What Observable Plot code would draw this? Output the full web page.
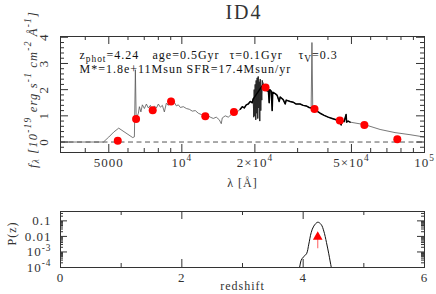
<!DOCTYPE html>
<html><head><meta charset="utf-8">
<script src="https://cdn.jsdelivr.net/npm/d3@7"></script>
<script src="https://cdn.jsdelivr.net/npm/@observablehq/plot@0.6"></script>
<style>
body{margin:0;background:#fff;width:436px;height:294px;overflow:hidden;font-family:"Liberation Serif",serif;color:#333}
#title{height:24px;line-height:24px;font-size:20px;letter-spacing:2px;text-align:center;padding-left:52px;box-sizing:border-box;width:436px}
svg{display:block}
</style></head><body>
<div id="title">ID4</div>
<div id="topPanel"></div><div id="botPanel"></div>
<script>
// ---- spectrum (observed-frame wavelength in Å, flux in 1e-19 erg/s/cm2/Å)
const specWave = [3162,4753,5000,5241,5494,6274,6376,6436,6485,6528,6622,6685,6781,6878,7010,7144,7281,7420,7560,7707,7854,8004,8157,8313,8472,8634,8799,8967,9139,9314,9492,9673,9859,10143,10436,10737,11046,11365,11692,12029,12376,12733,13100,13478,13866,14266,14539,14678,15101,15536,15984,16445,16919,17407,17740,18080,18426,18779,19139,19505,19690,19784,19878,19972,20067,20162,20258,20354,20450,20547,20645,20743,20841,20940,21040,21140,21240,21341,21442,21646,21853,22271,22483,22697,22913,23022,23351,23573,23685,24253,24717,25190,25430,26163,26664,26918,27950,28753,29583,30727,31623,32534,33471,34111,34371,34633,35765,37147,38583,40073,41621,43231,44479,45330,45761,46633,47524,47750,48432,49359,56908,65610,75610,87170,100000];
const specFlux = [0,0,0.19,0.38,0.53,0.17,0.2,2.76,0.88,0.95,1.1,1.35,1.15,1.42,1.28,1.45,1.3,1.4,1.22,1.38,1.3,1.45,1.33,1.4,1.15,1.48,1.4,1.55,1.45,1.52,1.38,1.42,1.32,1.35,1.28,1.25,1.18,1.2,1.1,1.05,0.98,1.02,0.95,0.9,0.95,0.85,0.7,0.92,1.0,0.95,1.05,1.12,1.15,1.25,1.35,1.3,1.42,1.45,1.55,1.5,1.65,0.95,2.0,1.0,2.2,0.85,2.35,1.1,2.45,0.9,2.5,1.3,2.3,0.8,2.4,1.2,2.1,1.6,2.35,2.2,2.15,2.05,1.95,2.05,1.5,2.0,1.95,1.2,1.9,1.85,1.78,1.55,1.72,1.62,1.45,1.6,1.55,1.52,1.45,1.45,1.4,1.38,1.32,1.3,3.8,1.28,1.2,1.1,1.02,0.95,0.9,0.85,0.8,0.65,0.82,0.78,1.05,0.76,0.8,0.76,0.66,0.48,0.36,0.28,0.19];
// ---- photometry
const photWave = [5445,6479,7586,9026,12494,16397,22130,35210,44770,56520,77270];
const photFlux = [0.05,0.88,1.21,1.55,0.98,1.15,2.08,1.26,0.82,0.65,0.11];
const photErr  = [0.06,0.07,0.07,0.12,0.1,0.08,0.08,0.06,0.06,0.05,0.06];
// ---- axes ticks
const lamTickValues = [5000,10000,20000,50000,100000];
const lamTickLabels = ["5000","10^{4}","2×10^{4}","5×10^{4}","10^{5}"];
const fluxTickValues = [0,1,2,3,4];
// ---- P(z)
const zGrid = [3.93,3.94,3.967,4.0,4.055,4.093,4.132,4.175,4.241,4.297,4.34,4.384,4.422,4.462,4.47];
const pzVals = [0.00008,0.0001,0.00029,0.00046,0.00076,0.0032,0.0174,0.046,0.082,0.058,0.022,0.0041,0.00076,0.00011,0.00008];
const zPhot = 4.24;
const zTickValues = [0,2,4,6];
const pTickValues = [0.1,0.01,0.001,0.0001];
const pTickLabels = ["0.1","0.01","10^{-3}","10^{-4}"];
// ---- annotation texts
const infoLine1 = ["z_{phot}=4.24","age=0.5Gyr","τ=0.1Gyr","τ_{V}=0.3"];
const infoLine2 = ["M*=1.8e+11Msun","SFR=17.4Msun/yr"];
const infoDx1 = [19,92,169,238], infoDx2 = [19,126];

const spec = specWave.map((w,i)=>({w,f:specFlux[i]}));
const phot = photWave.map((w,i)=>({w,f:photFlux[i],e:photErr[i]}));
const pzData = zGrid.map((z,i)=>({z,p:pzVals[i]}));

const INK = "#333";
const W = 436;
const M1 = {top:12,right:12,bottom:48,left:60}, H1 = 176;
const M2 = {top:11,right:12,bottom:27,left:60}, H2 = 94;
const FW = W - M1.left - M1.right;
const FH1 = H1 - M1.top - M1.bottom, FH2 = H2 - M2.top - M2.bottom;
const baseStyle = {fontFamily:"Liberation Serif", fontSize:"13px", letterSpacing:"1px", color:INK, background:"white", overflow:"visible"};

function xTicks(vals, len, fh){
  return [Plot.tickX(vals,{x:d=>d,stroke:INK,insetTop:fh-len}), Plot.tickX(vals,{x:d=>d,stroke:INK,insetBottom:fh-len})];
}
function yTicks(vals, len){
  return [Plot.tickY(vals,{y:d=>d,stroke:INK,insetRight:FW-len}), Plot.tickY(vals,{y:d=>d,stroke:INK,insetLeft:FW-len})];
}
function rich(svg){
  d3.select(svg).selectAll("text").each(function(){
    const s = this.textContent;
    if (!/[_^]\{/.test(s)) return;
    const fs = parseFloat(getComputedStyle(this).fontSize) || 13;
    const parts = []; const re = /([_^])\{([^}]*)\}/g; let last = 0, m;
    while ((m = re.exec(s))) { if (m.index > last) parts.push({t:s.slice(last,m.index),k:0}); parts.push({t:m[2],k:m[1]==="^"?1:-1}); last = re.lastIndex; }
    if (last < s.length) parts.push({t:s.slice(last),k:0});
    const el = d3.select(this); el.text(null);
    let off = 0;
    for (const p of parts) {
      const target = p.k===1 ? -0.42*fs : p.k===-1 ? 0.22*fs : 0;
      const ts = el.append("tspan").text(p.t);
      if (target - off !== 0) ts.attr("dy", target - off);
      if (p.k) ts.attr("font-size", (0.72*fs) + "px");
      off = target;
    }
  });
}

const minorLam = [4000,6000,7000,8000,9000,30000,40000,60000,70000,80000,90000];
const majorLam = [5000,10000,20000,50000];
const minorFlux = d3.range(-0.2, 4.0, 0.2).filter(v => Math.abs(v - Math.round(v)) > 0.05);
const isBlack = d => d.w >= 17400 && d.w <= 49400 && d.f < 3 && !(d.w > 19700 && d.w < 21500);
const isNoise = d => d.w >= 19600 && d.w <= 21700;
const yLabel = "f_{λ} [10^{-19} erg s^{-1} cm^{-2} Å^{-1}]";

const topChart = Plot.plot({
  width: W, height: H1, marginTop: M1.top, marginRight: M1.right, marginBottom: M1.bottom, marginLeft: M1.left,
  style: baseStyle,
  x: {type:"log", domain:[3162.3,100000], axis:null},
  y: {domain:[-0.4,4.03], axis:null},
  marks: [
    Plot.ruleY([0], {stroke:"#555", strokeDasharray:"5,3.5"}),
    Plot.line(spec, {x:"w", y:"f", stroke:"#555", strokeWidth:0.8, clip:true}),
    Plot.line(spec.filter(isNoise), {x:"w", y:"f", stroke:"#222", strokeWidth:0.8, clip:true}),
    Plot.line(spec.filter(isBlack), {x:"w", y:"f", stroke:"#000", strokeWidth:1.5, clip:true}),
    Plot.ruleX(phot, {x:"w", y1:d=>d.f-d.e, y2:d=>d.f+d.e, stroke:"red"}),
    Plot.dot(phot, {x:"w", y:"f", r:4, fill:"red"}),
    ...xTicks(minorLam, 4, FH1), ...xTicks(majorLam, 8, FH1),
    ...yTicks(minorFlux, 4), ...yTicks(fluxTickValues, 8),
    Plot.frame({stroke:INK}),
    Plot.text(lamTickValues, {x:d=>d, text:(d,i)=>lamTickLabels[i], frameAnchor:"bottom", dy:14, fontSize:13, fill:INK}),
    Plot.text(fluxTickValues, {y:d=>d, text:d=>String(d), frameAnchor:"left", textAnchor:"middle", dx:-17, rotate:-90, fontSize:13, fill:INK}),
    Plot.text(["λ [Å]"], {frameAnchor:"bottom", dy:34, fontSize:12, fill:INK}),
    Plot.text([yLabel], {frameAnchor:"left", textAnchor:"middle", dx:-28, dy:-5, rotate:-90, fontSize:12.5, fontStyle:"italic", fill:INK}),
    ...infoLine1.map((t,i) => Plot.text([t], {frameAnchor:"top-left", dx:infoDx1[i], dy:14, textAnchor:"start", fontSize:12, fill:"#111"})),
    ...infoLine2.map((t,i) => Plot.text([t], {frameAnchor:"top-left", dx:infoDx2[i], dy:28, textAnchor:"start", fontSize:12, fill:"#111"}))
  ]
});
rich(topChart);
d3.select(topChart).selectAll("text").filter(function(){ return this.textContent.includes("erg"); }).style("letter-spacing","1.2px");
document.getElementById("topPanel").append(topChart);

const minorZ = [1,3,5], majorZ = [2,4];
const minorP = []; for (const e of [-4,-3,-2,-1]) for (let k = 2; k <= 9; k++) { const v = k*Math.pow(10,e); if (v < 0.4) minorP.push(v); }
const botChart = Plot.plot({
  width: W, height: H2, marginTop: M2.top, marginRight: M2.right, marginBottom: M2.bottom, marginLeft: M2.left,
  style: baseStyle,
  x: {domain:[0,6], axis:null},
  y: {type:"log", domain:[0.0001,0.4], axis:null},
  marks: [
    Plot.line(pzData, {x:"z", y:"p", stroke:"#111", strokeWidth:1, curve:"catmull-rom", clip:true}),
    Plot.ruleX([zPhot], {y1:0.0016, y2:0.009, stroke:"#f77", strokeWidth:1.2}),
    Plot.dot([zPhot], {x:d=>d, y:0.0092, symbol:"triangle", r:3.6, fill:"red"}),
    ...xTicks(minorZ, 4, FH2), ...xTicks(majorZ, 8, FH2),
    ...yTicks(minorP, 3), ...yTicks(pTickValues, 7),
    Plot.frame({stroke:INK}),
    Plot.text(zTickValues, {x:d=>d, text:d=>String(d), frameAnchor:"bottom", dy:14, fontSize:13, fill:INK}),
    Plot.text(pTickValues, {y:d=>d, text:(d,i)=>pTickLabels[i], frameAnchor:"left", dx:-9, textAnchor:"end", fontSize:13, fill:INK}),
    Plot.text(["P(z)"], {frameAnchor:"left", textAnchor:"middle", dx:-48, dy:-6, rotate:-90, fontSize:12, fill:INK}),
    Plot.text(["redshift"], {frameAnchor:"bottom", dy:22, fontSize:12, fill:INK})
  ]
});
rich(botChart);
document.getElementById("botPanel").append(botChart);
</script></body></html>
